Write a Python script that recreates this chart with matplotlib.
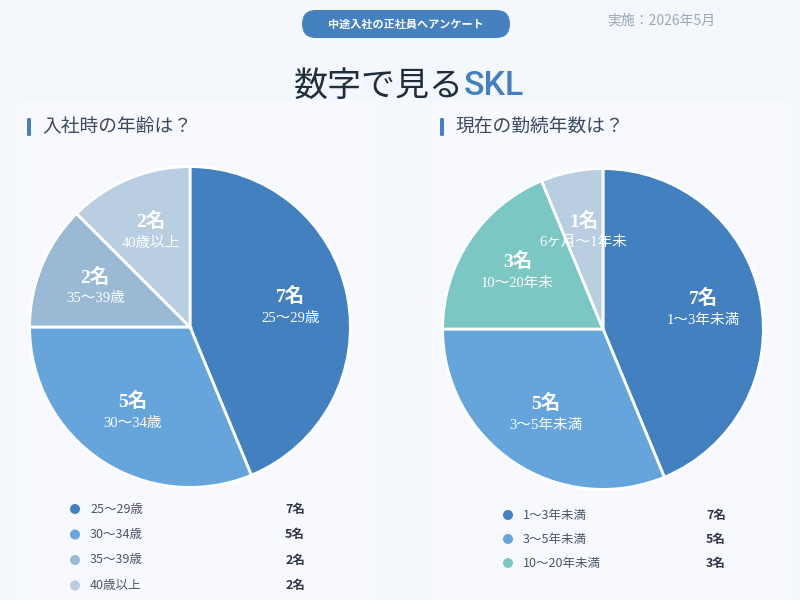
import numpy as np
import matplotlib.pyplot as plt
from matplotlib.patches import FancyBboxPatch, Ellipse

plt.rcParams['font.family'] = ['Noto Sans CJK JP', 'DejaVu Sans']

# data
age_labels = ['25〜29歳', '30〜34歳', '35〜39歳', '40歳以上']
age_counts = [7, 5, 2, 2]
age_colors = ['#4380c0', '#66a5db', '#99b9d4', '#b9cee1']

tenure_labels = ['1〜3年未満', '3〜5年未満', '10〜20年未満', '6ヶ月〜1年未満']
tenure_counts = [7, 5, 3, 1]
tenure_colors = ['#4380c0', '#66a5db', '#7bc7c4', '#b9cee1']
# pie slice captions (the last ones are cut off in the original)
tenure_slice_text = ['1〜3年未満', '3〜5年未満', '10〜20年未', '6ヶ月〜1年未']
age_slice_text = age_labels

W, H = 800, 600
BG = '#f4f7fc'
SERIF = ['Liberation Serif', 'Noto Sans CJK JP']

fig = plt.figure(figsize=(8, 6), dpi=100)
fig.patch.set_facecolor(BG)


def px(x, y):
    return x / W, 1 - y / H


# faint panels behind the pies
for x0, x1 in [(18, 378), (432, 790)]:
    fig.patches.append(FancyBboxPatch(px(x0, 600), (x1 - x0) / W, 500 / H,
                                      boxstyle='square,pad=0', transform=fig.transFigure,
                                      facecolor='#f7f9fe', edgecolor='none', zorder=-2))

# header pill
pill = FancyBboxPatch(px(302, 38), 208 / W, 28 / H,
                      boxstyle='round,pad=0,rounding_size=0.0175',
                      transform=fig.transFigure, facecolor='#4580bf', edgecolor='none',
                      mutation_aspect=W / H)
fig.patches.append(pill)
fig.text(*px(406, 24), '中途入社の正社員へアンケート', color='white', fontsize=8,
         fontweight='bold', ha='center', va='center')
fig.text(*px(661, 20), '実施：2026年5月', color='#9aabb6', fontsize=10,
         ha='center', va='center')

# main title
fig.text(*px(464, 86), 'SKL', color='#4380c0', fontsize=24.5, fontweight='medium',
         ha='left', va='center', family='Roboto')
fig.text(*px(464, 86), '数字で見る', color='#1f2d3d', fontsize=24.5,
         ha='right', va='center')

# section headings
for bx, title in [(27, '入社時の年齢は？'), (440, '現在の勤続年数は？')]:
    fig.patches.append(FancyBboxPatch(px(bx, 136), 4 / W, 18 / H,
                                      boxstyle='round,pad=0,rounding_size=0.002',
                                      transform=fig.transFigure, facecolor='#4380c0',
                                      edgecolor='none'))
    fig.text(*px(bx + 15, 127), title, color='#3b4a63', fontsize=13.5,
             ha='left', va='center')


def draw_pie(cx, cy, r, counts, colors, texts):
    ax = fig.add_axes([(cx - r) / W, 1 - (cy + r) / H, 2 * r / W, 2 * r / H])
    ax.pie(counts, colors=colors, startangle=90, counterclock=False, radius=1,
           wedgeprops=dict(edgecolor='white', linewidth=2))
    ax.set_xlim(-1.01, 1.01)
    ax.set_ylim(-1.01, 1.01)
    ax.set_aspect('equal')
    ax.axis('off')
    total = sum(counts)
    start = 90.0
    for n, t in zip(counts, texts):
        sweep = 360.0 * n / total
        mid = np.deg2rad(start - sweep / 2)
        start -= sweep
        d = 0.64 if n > 1 else 0.62
        x, y = d * np.cos(mid), d * np.sin(mid)
        ax.text(x, y + 0.065, f'{n}名', color='white', fontsize=14,
                fontweight='bold', ha='center', va='center', family=SERIF)
        ax.text(x, y - 0.07, t, color='white', fontsize=10.5,
                ha='center', va='center', family=SERIF)
    return ax


draw_pie(190, 327, 162, age_counts, age_colors, age_slice_text)
draw_pie(603, 329, 162, tenure_counts, tenure_colors, tenure_slice_text)


def draw_legend(x_dot, x_val, y0, dy, labels, counts, colors):
    for i, (lab, n, c) in enumerate(zip(labels, counts, colors)):
        y = y0 + i * dy
        fig.patches.append(Ellipse(px(x_dot, y), 10 / W, 10 / H, transform=fig.transFigure,
                                   facecolor=c, edgecolor='none'))
        fig.text(*px(x_dot + 15, y), lab, color='#4a5568', fontsize=9,
                 ha='left', va='center')
        fig.text(*px(x_val, y), f'{n}名', color='#2d3748', fontsize=9,
                 fontweight='bold', ha='right', va='center')


draw_legend(75, 305, 509, 25.5, age_labels, age_counts, age_colors)
draw_legend(508, 726, 515, 24, tenure_labels[:3], tenure_counts[:3], tenure_colors[:3])

fig.savefig('out.png', dpi=100, facecolor=BG)
